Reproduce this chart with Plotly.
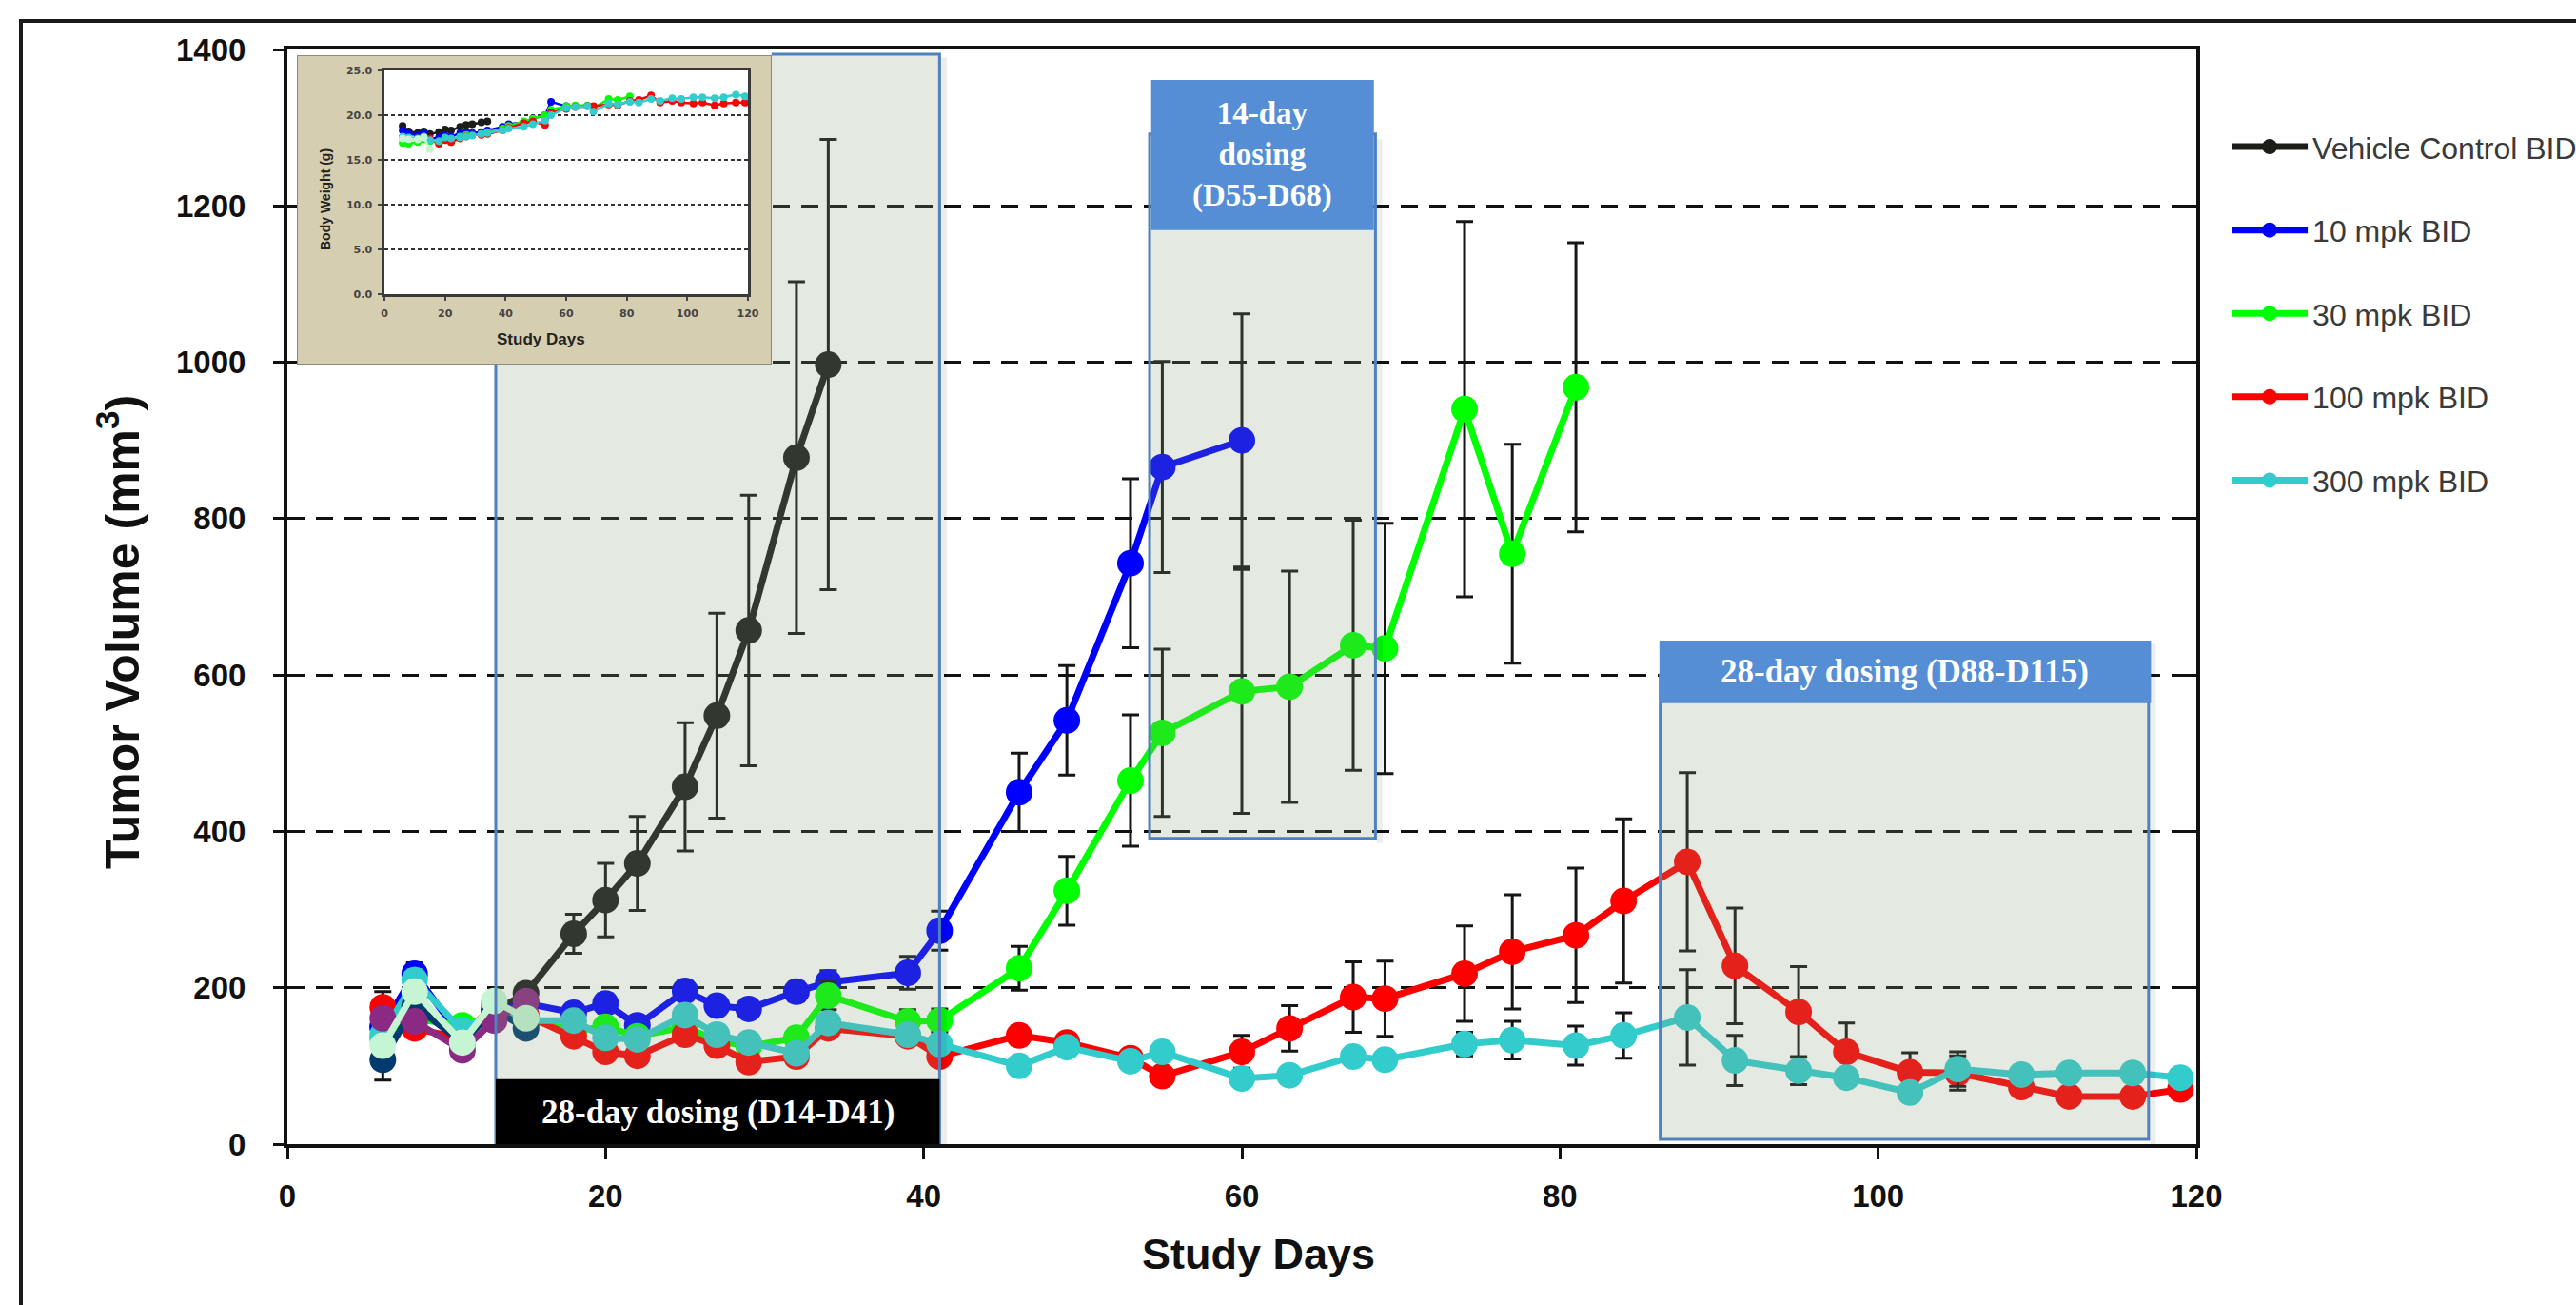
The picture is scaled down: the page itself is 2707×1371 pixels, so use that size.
import plotly.graph_objects as go

# ---------------- data ----------------
days_vehicle = [6, 8, 11, 13, 15, 18, 20, 22, 25, 27, 29, 32, 34]
days_10 = [6, 8, 11, 13, 15, 18, 20, 22, 25, 27, 29, 32, 34, 39, 41, 46, 49, 53, 55, 60]
days_30 = [6, 8, 11, 13, 15, 18, 20, 22, 25, 27, 29, 32, 34, 39, 41, 46, 49, 53, 55, 60,
           63, 67, 69, 74, 77, 81]
days_100 = [6, 8, 11, 13, 15, 18, 20, 22, 25, 27, 29, 32, 34, 39, 41, 46, 49, 53, 55, 60,
            63, 67, 69, 74, 77, 81, 84, 88, 91, 95, 98, 102, 105, 109, 112, 116, 119]
days_300 = [6, 8, 11, 13, 15, 18, 20, 22, 25, 27, 29, 32, 34, 39, 41, 46, 49, 53, 55, 60,
            63, 67, 69, 74, 77, 81, 84, 88, 91, 95, 98, 102, 105, 109, 112, 116, 119]
days_early = [6, 8, 11, 13, 15]

vehicle_tv = [150, 175, 140, 170, 193, 269, 312, 359, 457, 548, 657, 878, 997]
vehicle_err = [10, 10, 8, 10, 12, 25, 47, 60, 82, 131, 173, 225, 288]

mpk10_tv = [150, 218, 135, 170, 180, 168, 180, 152, 196, 177, 173, 195, 207, 219, 273,
            450, 542, 743, 866, 900]
mpk10_err = [10, 14, 8, 8, 10, 10, 12, 10, 12, 10, 10, 12, 15, 21, 25, 50, 70, 108, 135, 162]

mpk30_tv = [135, 160, 152, 165, 160, 145, 150, 138, 150, 132, 125, 136, 190, 157, 158,
            225, 324, 465, 526, 579, 585, 638, 634, 940, 755, 968]
mpk30_err = [10, 10, 8, 8, 10, 10, 10, 10, 10, 10, 10, 12, 18, 15, 15, 28, 44, 84, 107,
             156, 148, 160, 160, 240, 140, 185]

mpk100_tv = [175, 148, 135, 180, 165, 138, 118, 113, 140, 126, 105, 112, 148, 138, 112,
             139, 130, 110, 87, 118, 148, 188, 186, 218, 246, 267, 311, 361, 228, 169,
             118, 92, 91, 73, 61, 61, 70]
mpk100_err = [20, 9, 8, 10, 10, 10, 10, 10, 10, 10, 10, 10, 10, 10, 10, 12, 10, 10, 10, 21,
              29, 45, 48, 61, 73, 86, 105, 114, 74, 58, 37, 25, 22, 10, 8, 8, 8]

mpk300_tv = [140, 210, 145, 170, 158, 158, 136, 134, 165, 140, 130, 116, 155, 140, 128,
             100, 124, 106, 118, 84, 88, 112, 108, 128, 133, 126, 139, 162, 107, 94,
             85, 66, 96, 89, 91, 91, 85]
mpk300_err = [10, 10, 8, 8, 8, 10, 8, 8, 10, 8, 8, 8, 10, 10, 8, 8, 10, 8, 10, 8,
              8, 10, 10, 15, 24, 25, 29, 61, 32, 18, 10, 8, 22, 10, 8, 8, 8]

# early (pre-randomisation) groups without legend entries
navy_tv = [108, 177, 130, 172, 148]
navy_err = [26, 10, 8, 8, 10]
purple_tv = [161, 157, 120, 158, 183]
purple_err = [8, 9, 8, 8, 8]
pale_tv = [126, 195, 130, 183, 161]
pale_err = [8, 8, 8, 8, 8]

# inset: body weight (g)
vehicle_bw = [18.8, 18.2, 18.0, 18.2, 17.9, 18.1, 18.4, 18.3, 18.7, 18.9, 19.0, 19.2, 19.3]
mpk10_bw = [18.3, 17.9, 17.8, 18.0, 17.3, 17.5, 17.7, 17.6, 18.0, 18.1, 18.0, 18.1, 18.3,
            18.7, 19.0, 19.2, 19.6, 20.0, 21.5, 21.0]
mpk30_bw = [16.9, 16.8, 17.0, 17.3, 17.1, 16.9, 17.3, 17.0, 17.6, 17.8, 17.8, 17.9, 18.1,
            18.5, 18.8, 19.3, 19.6, 20.0, 20.6, 21.0, 21.1, 21.1, 20.8, 21.8, 21.7, 22.1]
mpk100_bw = [17.5, 17.3, 17.4, 17.6, 17.4, 16.8, 17.2, 17.0, 17.4, 17.6, 17.8, 17.8, 17.9,
             18.3, 18.6, 19.1, 19.3, 18.9, 20.3, 20.7, 20.9, 21.0, 21.0, 21.2, 21.1, 21.6,
             21.7, 22.2, 21.4, 21.6, 21.4, 21.3, 21.4, 21.1, 21.3, 21.4, 21.4]
mpk300_bw = [17.6, 17.5, 17.4, 17.6, 17.2, 17.1, 17.5, 17.4, 17.5, 17.6, 17.7, 17.9, 18.0,
             18.3, 18.5, 18.7, 19.0, 19.4, 20.0, 20.8, 20.9, 21.0, 20.4, 21.3, 21.2, 21.5,
             21.4, 21.8, 21.6, 21.9, 21.8, 22.0, 22.0, 21.9, 22.0, 22.3, 22.1]
pale_bw = [17.4, 17.3, 17.3, 17.5, 16.2]

series = [
    ("Vehicle Control BID", days_vehicle, vehicle_tv, vehicle_err, vehicle_bw, "#1c1c1a"),
    ("10 mpk BID", days_10, mpk10_tv, mpk10_err, mpk10_bw, "#0000ff"),
    ("30 mpk BID", days_30, mpk30_tv, mpk30_err, mpk30_bw, "#00ff00"),
    ("100 mpk BID", days_100, mpk100_tv, mpk100_err, mpk100_bw, "#ff0000"),
    ("300 mpk BID", days_300, mpk300_tv, mpk300_err, mpk300_bw, "#33cccc"),
]
extras = [
    (navy_tv, navy_err, "#003a6e"),
    (purple_tv, purple_err, "#8a2a84"),
    (pale_tv, pale_err, "#c5f5d2"),
]

# dosing windows (study days) and label texts
dose1 = (13.1, 41.0, "28-day dosing (D14-D41)")
dose2 = (54.2, 68.4, "14-day<br>dosing<br>(D55-D68)")
dose3 = (86.3, 117.0, "28-day dosing (D88-D115)")

ERRC = "#151515"
fig = go.Figure()

for name, d, tv, err, bw, col in series:
    fig.add_trace(go.Scatter(
        x=d, y=tv, name=name, legendgroup=name, mode="lines+markers",
        line=dict(color=col, width=7), marker=dict(color=col, size=28),
        error_y=dict(type="data", array=err, visible=True, color=ERRC, thickness=3, width=9),
        hoverinfo="x+y"))
for tv, err, col in extras:
    fig.add_trace(go.Scatter(
        x=days_early, y=tv, showlegend=False, mode="lines+markers",
        line=dict(color=col, width=7), marker=dict(color=col, size=28),
        error_y=dict(type="data", array=err, visible=True, color=ERRC, thickness=3, width=9)))

# dummy trace for mirrored inward ticks on the right side
fig.add_trace(go.Scatter(x=[None], y=[None], yaxis="y4", showlegend=False, hoverinfo="skip"))
# inset frame subplot (tan background)
fig.add_trace(go.Scatter(x=[None], y=[None], xaxis="x2", yaxis="y2", showlegend=False,
                         hoverinfo="skip"))
# inset body-weight traces
for name, d, tv, err, bw, col in series:
    fig.add_trace(go.Scatter(
        x=d, y=bw, xaxis="x3", yaxis="y3", showlegend=False, mode="lines+markers",
        line=dict(color=col, width=2.5), marker=dict(color=col, size=8)))
fig.add_trace(go.Scatter(
    x=days_early, y=pale_bw, xaxis="x3", yaxis="y3", showlegend=False, mode="lines+markers",
    line=dict(color="#c5f5d2", width=2.5), marker=dict(color="#c5f5d2", size=8)))

W, H = 2707, 1371
L, R, T, B = 302, 399, 52, 169
pw, ph = W - L - R, H - T - B


def px2paper_x(px):
    return (px - L) / pw


def px2paper_y(py):
    return (H - B - py) / ph


OVER = "rgba(134,157,121,0.22)"
SHADOW = "rgba(0,0,0,0.07)"
BLUE_EDGE = "#4f81bd"
HEAD = "#558ed5"
inset_bottom_val = 997
inset_right_day = 30.44
shapes = []
# outer frame
shapes.append(dict(type="rect", xref="paper", yref="paper", layer="below",
                   x0=px2paper_x(22), x1=1.25, y0=-0.2, y1=px2paper_y(22),
                   line=dict(color="#1a1a1a", width=4), fillcolor="rgba(0,0,0,0)"))
# inset tan background
shapes.append(dict(type="rect", xref="x2", yref="y2", layer="below", x0=0, x1=1, y0=0, y1=1,
                   fillcolor="#d6ceb1", line=dict(color="#8a8a80", width=2)))
# soft shadows on the right of the dosing boxes
for (a, b_, _), (lo, hi) in [(dose1, (0, 1390)), (dose2, (385, 1285)), (dose3, (0, 640))]:
    shapes.append(dict(type="rect", xref="x", yref="y", layer="above",
                       x0=b_ + 0.1, x1=b_ + 0.45, y0=lo, y1=hi,
                       fillcolor=SHADOW, line=dict(width=0)))
# dosing box 1 (L-shape around the inset)
a, b_, _ = dose1
shapes.append(dict(type="path", xref="x", yref="y", layer="above",
                   path=f"M {a},0 L {b_},0 L {b_},1394 L {inset_right_day},1394 "
                        f"L {inset_right_day},{inset_bottom_val} L {a},{inset_bottom_val} Z",
                   fillcolor=OVER, line=dict(width=0)))
shapes.append(dict(type="path", xref="x", yref="y", layer="above",
                   path=f"M {a},{inset_bottom_val} L {a},0 M {b_},0 L {b_},1394 "
                        f"L {inset_right_day},1394",
                   line=dict(color=BLUE_EDGE, width=3)))
shapes.append(dict(type="rect", xref="x", yref="y", layer="above", x0=a, x1=b_, y0=0, y1=83,
                   fillcolor="#000000", line=dict(width=0)))
# dosing box 2
a, b_, _ = dose2
shapes.append(dict(type="rect", xref="x", yref="y", layer="above", x0=a, x1=b_, y0=391, y1=1292,
                   fillcolor=OVER, line=dict(color=BLUE_EDGE, width=3)))
shapes.append(dict(type="rect", xref="x", yref="y", layer="above", x0=a + 0.1, x1=b_ - 0.1,
                   y0=1169, y1=1361, fillcolor=HEAD, line=dict(width=0)))
# dosing box 3
a, b_, _ = dose3
shapes.append(dict(type="rect", xref="x", yref="y", layer="above", x0=a, x1=b_, y0=6, y1=600,
                   fillcolor=OVER, line=dict(color=BLUE_EDGE, width=3)))
shapes.append(dict(type="rect", xref="x", yref="y", layer="above", x0=a - 0.05, x1=b_ + 0.15,
                   y0=564, y1=644, fillcolor=HEAD, line=dict(width=0)))

serif = "Liberation Serif, Times New Roman, serif"
C = dict(xanchor="center", yanchor="middle", showarrow=False)
annotations = [
    dict(x=(dose1[0] + dose1[1]) / 2, y=41, xref="x", yref="y", text=dose1[2],
         font=dict(family=serif, size=35, color="white", weight="bold"), **C),
    dict(x=(dose2[0] + dose2[1]) / 2, y=1265, xref="x", yref="y", text=dose2[2],
         font=dict(family=serif, size=33, color="white", weight="bold"), **C),
    dict(x=(dose3[0] + dose3[1]) / 2, y=604, xref="x", yref="y", text=dose3[2],
         font=dict(family=serif, size=35, color="white", weight="bold"), **C),
    dict(x=px2paper_x(125), y=px2paper_y(664), xref="paper", yref="paper",
         text="Tumor Volume (mm<sup>3</sup>)", textangle=-90,
         font=dict(family="Liberation Sans", size=50, color="#111", weight="bold"), **C),
    dict(x=px2paper_x(1322), y=px2paper_y(1317), xref="paper", yref="paper",
         text="Study Days",
         font=dict(family="Liberation Sans", size=45, color="#111", weight="bold"), **C),
    dict(x=px2paper_x(342), y=px2paper_y(210), xref="paper", yref="paper",
         text="Body Weight (g)", textangle=-90,
         font=dict(family="Liberation Sans", size=14, color="#222", weight="bold"), **C),
    dict(x=px2paper_x(568), y=px2paper_y(356), xref="paper", yref="paper",
         text="Study Days",
         font=dict(family="Liberation Sans", size=17, color="#222", weight="bold"), **C),
]

fig.update_layout(
    width=W, height=H, template="none",
    paper_bgcolor="white", plot_bgcolor="white",
    margin=dict(l=L, r=R, t=T, b=B, pad=0, autoexpand=False),
    showlegend=True,
    legend=dict(x=1.016, y=0.935, xanchor="left", yanchor="top",
                font=dict(family="Liberation Sans", size=32, color="#3a3a3a"),
                itemwidth=80, tracegroupgap=43, bgcolor="rgba(0,0,0,0)"),
    xaxis=dict(range=[0, 120], dtick=20, tick0=0, showgrid=False, zeroline=False,
               ticks="outside", ticklen=12, tickwidth=3, tickcolor="#111",
               showline=True, linewidth=4, linecolor="#111", mirror=True,
               tickfont=dict(family="Liberation Sans Narrow, Liberation Sans", size=33,
                             color="#111", weight="bold"),
               ticklabelstandoff=10),
    yaxis=dict(range=[0, 1400], dtick=200, tick0=0, showgrid=True, gridcolor="#111",
               gridwidth=3, griddash="18px,12px", zeroline=False,
               ticks="outside", ticklen=11, tickwidth=3, tickcolor="#111",
               showline=True, linewidth=4, linecolor="#111", mirror=True,
               tickfont=dict(family="Liberation Sans", size=33, color="#111", weight="bold"),
               ticklabelstandoff=22),
    yaxis4=dict(overlaying="y", side="right", anchor="x", range=[0, 1400], dtick=200,
                ticks="inside", ticklen=11, tickwidth=3, tickcolor="#111",
                showticklabels=False, showgrid=False, showline=False, zeroline=False),
    xaxis2=dict(domain=[px2paper_x(312), px2paper_x(811)], anchor="y2", range=[0, 1],
                showgrid=False, zeroline=False, showline=False, showticklabels=False, ticks=""),
    yaxis2=dict(domain=[px2paper_y(383), px2paper_y(58)], anchor="x2", range=[0, 1],
                showgrid=False, zeroline=False, showline=False, showticklabels=False, ticks=""),
    xaxis3=dict(domain=[px2paper_x(404), px2paper_x(786)], anchor="y3", range=[0, 120],
                dtick=20, showgrid=False, zeroline=False, ticks="outside", ticklen=4,
                tickwidth=1.5, tickcolor="#444", showline=True, linewidth=2.5,
                linecolor="#3a3a3a", mirror=True,
                tickfont=dict(family="DejaVu Sans", size=11, color="#444", weight="bold"),
                ticklabelstandoff=4),
    yaxis3=dict(domain=[px2paper_y(309), px2paper_y(74)], anchor="x3", range=[0, 25],
                dtick=5, tickformat=".1f", showgrid=True, gridcolor="#333", gridwidth=1.5,
                griddash="4px,3px", zeroline=False, ticks="outside", ticklen=4,
                tickwidth=1.5, tickcolor="#444", showline=True, linewidth=2.5,
                linecolor="#3a3a3a", mirror=True,
                tickfont=dict(family="DejaVu Sans", size=11, color="#444", weight="bold"),
                ticklabelstandoff=4),
    shapes=shapes,
    annotations=annotations,
)

fig.write_html("out.html", config={"displayModeBar": False},
               post_script="document.body.style.margin='0';")
